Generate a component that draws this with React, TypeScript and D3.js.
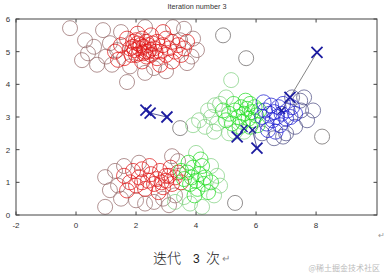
import React from "react";
import * as d3 from "d3";

type P = [number, number];

const xTicks = [-2, 0, 2, 4, 6, 8];
const yTicks = [0, 1, 2, 3, 4, 5, 6];

const redCore: P[] = [[1.3,5.0],[1.5,5.2],[1.6,4.8],[1.8,5.1],[1.9,5.3],[2.0,4.9],[2.1,5.1],[2.2,5.4],[2.2,4.7],[2.3,5.0],[2.4,5.2],[2.5,4.9],[2.5,5.5],[2.6,5.1],[2.7,5.3],[2.7,4.8],[2.8,5.0],[2.9,5.2],[2.9,5.6],[3.0,4.9],[3.1,5.1],[3.2,5.3],[3.2,4.7],[3.3,5.0],[3.4,5.2],[3.5,4.9],[3.6,5.1],[2.45,5.05],[2.55,5.25],[2.15,5.2],[2.35,4.85],[2.65,5.0],[1.7,5.4],[3.0,5.4],[2.8,4.6],[1.4,4.75],[3.7,5.3],[2.05,5.55],
[1.95,5.05],[2.05,5.25],[2.25,5.15],[1.85,4.9],[2.35,5.3],[2.1,4.95],[2.4,5.0],[1.9,5.15],[2.25,4.95],[2.0,5.35],
[1.6,1.2],[1.8,1.0],[1.9,1.35],[2.0,0.9],[2.1,1.15],[2.2,1.4],[2.3,0.8],[2.4,1.05],[2.5,1.25],[2.6,0.95],[2.7,1.1],[2.8,1.35],[2.9,0.85],[3.0,1.05],[3.1,1.2],[3.2,0.95],[3.3,1.15],[3.4,1.3],[3.5,1.0],[2.2,1.0],[2.75,0.7],[3.15,1.45],[1.7,0.75],[2.45,1.5],[3.0,1.2],[2.85,1.0]];

const redMuted: P[] = [[-0.2,5.72],[0.2,4.74],[0.3,5.35],[0.4,4.95],[0.6,5.15],[0.9,5.66],[1.13,5.26],[1.0,4.85],[1.37,5.05],[1.2,4.6],[1.7,4.07],[1.5,5.6],[1.8,4.55],[2.6,4.5],[3.23,5.75],[3.47,5.35],[3.7,4.65],[4.03,5.05],[3.85,4.85],[3.9,5.4],[3.0,4.4],[2.3,4.35],[0.7,4.6],[3.6,5.7],[2.3,5.75],
[0.97,1.16],[1.13,0.76],[0.97,0.25],[1.3,1.35],[1.4,0.9],[1.5,0.5],[1.6,1.5],[2.0,0.45],[2.3,0.35],[2.6,0.4],[2.9,0.5],[3.1,0.3],[3.3,0.6],[3.4,1.65],[3.2,1.8],[2.1,1.6]];

const greenCore: P[] = [[3.6,1.1],[3.7,1.3],[3.8,0.95],[3.85,1.15],[3.9,1.45],[4.0,1.05],[4.05,0.8],[4.1,1.25],[4.2,1.5],[4.25,0.95],[4.3,1.15],[4.4,0.7],[3.75,1.6],[3.95,0.6],[4.15,1.7],[3.5,1.35],[4.5,1.0],
[5.0,2.9],[5.1,3.1],[5.2,2.8],[5.3,3.2],[5.4,3.0],[5.5,3.3],[5.55,2.85],[5.6,3.1],[5.7,3.25],[5.75,2.95],[5.8,3.4],[5.85,3.15],[5.9,2.9],[5.95,3.3],[6.0,3.05],[6.05,2.75],[5.65,3.5],[5.45,2.7],[5.25,3.4],[4.9,3.2],[6.1,3.2],[5.8,2.7]];

const greenPale: P[] = [[4.6,0.6],[4.7,1.2],[4.2,0.25],[3.8,0.35],[4.5,1.5],[3.6,0.55],[4.0,1.9],[4.8,0.9],[3.3,0.4],
[3.9,2.75],[4.1,2.9],[4.3,2.7],[4.5,3.0],[4.63,3.36],[4.4,3.2],[4.7,2.8],[4.8,3.4],[5.17,4.13],[5.0,3.6],[4.6,2.55],[5.3,2.55],[5.6,2.55],[5.1,2.5]];

const blueCore: P[] = [[6.2,3.0],[6.3,3.2],[6.35,2.8],[6.45,3.1],[6.5,3.35],[6.55,2.9],[6.6,3.15],[6.7,3.0],[6.75,3.3],[6.8,2.75],[6.85,3.1],[6.9,3.4],[7.0,2.95],[7.05,3.2],[7.15,3.0],[7.2,3.3],[6.4,2.6],[6.65,2.55],[6.25,3.45],[7.3,3.1]];

const blueMuted: P[] = [[7.47,3.5],[7.7,2.9],[7.5,3.2],[7.3,2.7],[7.0,2.5],[7.6,3.6],[7.9,3.2],[6.9,2.4],[6.2,2.5],[7.2,3.6],[6.6,2.35]];

const grayPts: P[] = [[4.9,5.5],[5.67,4.8],[8.2,2.4],[3.47,2.66],[5.3,0.37]];

const centroidPaths: P[][] = [
  [[8.03,4.98],[7.13,3.6],[6.85,3.2]],
  [[3.03,3.0],[2.47,3.12],[2.33,3.21]],
  [[6.03,2.05],[5.88,2.6]],
  [[5.37,2.39],[5.6,2.65]],
];

const W = 384, H = 276;
const L = 16, R = 377, T = 19, B = 215;

export default function App() {
  const x = d3.scaleLinear().domain([-2, 10.03]).range([L, R]);
  const y = d3.scaleLinear().domain([0, 6]).range([B, T]);
  const line = d3.line<P>().x(d => x(d[0])).y(d => y(d[1]));
  const r = 7.5;
  const circles = (pts: P[], color: string, op: number, key: string) =>
    pts.map((p, i) => (
      <circle key={key + i} cx={x(p[0])} cy={y(p[1])} r={r} fill="none" stroke={color} strokeWidth={0.9} strokeOpacity={op} />
    ));
  const X = (p: P, k: string, s = 5.5) => {
    const cx = x(p[0]), cy = y(p[1]);
    return (
      <g key={k} stroke="#1c1ca0" strokeWidth={s > 4 ? 1.8 : 1.3}>
        <line x1={cx - s} y1={cy - s} x2={cx + s} y2={cy + s} />
        <line x1={cx - s} y1={cy + s} x2={cx + s} y2={cy - s} />
      </g>
    );
  };
  const font = "Liberation Sans, Arial, sans-serif";
  return (
    <svg width={W} height={H} style={{ position: "absolute", left: 0, top: 0, background: "#fff" }}>
      <rect x={0} y={0} width={W} height={H} fill="#fff" />
      <text x={197} y={9} fontSize={8} fontFamily={font} fill="#333" textAnchor="middle" textLength={59} lengthAdjust="spacingAndGlyphs">Iteration number 3</text>
      <g>
        {circles(grayPts, "#6e6a6a", 0.85, "g")}
        {circles(redMuted, "#946868", 0.8, "rm")}
        {circles(greenPale, "#7fd07f", 0.8, "gp")}
        {circles(blueMuted, "#4a4a82", 0.8, "bm")}
        {circles(redCore, "#dd1515", 0.8, "rc")}
        {circles(greenCore, "#22dd22", 0.8, "gc")}
        {circles(blueCore, "#1a1ad0", 0.8, "bc")}
      </g>
      {centroidPaths.map((path, i) => (
        <path key={"l" + i} d={line(path) || ""} fill="none" stroke={i === 0 ? "#777" : "#4a4a90"} strokeWidth={0.9} />
      ))}
      {centroidPaths.map((path, i) => path.map((p, j) => X(p, `x${i}-${j}`, j === path.length - 1 && i !== 1 ? 3.5 : 5.5)))}
      <rect x={L} y={T} width={R - L} height={B - T} fill="none" stroke="#444" strokeWidth={1} />
      {xTicks.map(t => (
        <g key={"xt" + t}>
          <line x1={x(t)} x2={x(t)} y1={B} y2={B - 3.5} stroke="#444" />
          <line x1={x(t)} x2={x(t)} y1={T} y2={T + 3.5} stroke="#444" />
          <text x={x(t)} y={228} fontSize={8} fontFamily={font} fill="#333" textAnchor="middle">{t}</text>
        </g>
      ))}
      {yTicks.map(t => (
        <g key={"yt" + t}>
          <line x1={L} x2={L + 3.5} y1={y(t)} y2={y(t)} stroke="#444" />
          <line x1={R} x2={R - 3.5} y1={y(t)} y2={y(t)} stroke="#444" />
          <text x={8} y={y(t) + 3} fontSize={8} fontFamily={font} fill="#333" textAnchor="middle">{t}</text>
        </g>
      ))}
      <text x={381} y={238} fontSize={8} fontFamily={font} fill="#999" textAnchor="middle">↵</text>
      <text x={153} y={263} fontSize={14} fontWeight={300} fontFamily="Noto Sans CJK SC, sans-serif" fill="#222">迭代</text>
      <text x={193} y={263} fontSize={12} fontFamily={font} fill="#222">3</text>
      <text x={206} y={263} fontSize={14} fontWeight={300} fontFamily="Noto Sans CJK SC, sans-serif" fill="#222">次</text>
      <text x={222} y={262} fontSize={10} fontFamily={font} fill="#888">↵</text>
      <text x={380} y={271} fontSize={8} fontFamily="Noto Sans CJK SC, sans-serif" fill="#bbb" textAnchor="end">@稀土掘金技术社区</text>
    </svg>
  );
}
